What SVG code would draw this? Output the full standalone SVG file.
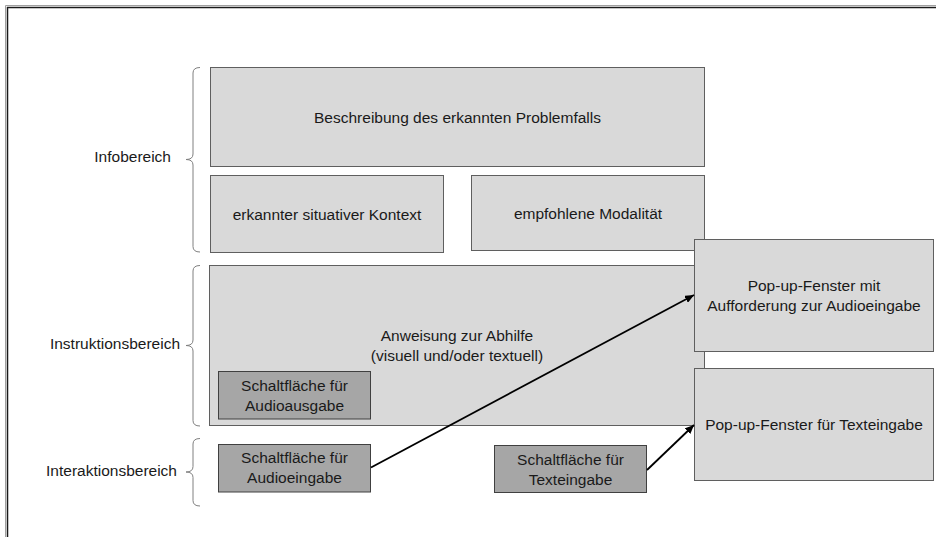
<svg xmlns="http://www.w3.org/2000/svg" width="936" height="537" viewBox="0 0 936 537">
<style>
text{font-family:"Liberation Sans",Arial,sans-serif;font-size:15.5px;fill:#1a1a1a;text-anchor:middle}
.lbl{text-anchor:end}
.box{fill:#d9d9d9;stroke:#5f5f5f;stroke-width:1}
.btn{fill:#a6a6a6;stroke:#404040;stroke-width:1}
.brace{fill:none;stroke:#808080;stroke-width:1}
.conn{fill:none;stroke:#000;stroke-width:1.8}
</style>
<defs>
<marker id="ah" markerUnits="userSpaceOnUse" markerWidth="10" markerHeight="8" refX="9" refY="4" orient="auto">
<path d="M0,0 L9,4 L0,8 Z" fill="#000"/>
</marker>
</defs>
<rect width="936" height="537" fill="#fff"/>
<g id="frame">
<path d="M5.5 537 V5.5 H936" fill="none" stroke="#a0a0a0" stroke-width="1"/>
<path d="M7.5 537 V7.5 H936" fill="none" stroke="#1a1a1a" stroke-width="1.5"/>
</g>
<g id="brace-info">
<path class="brace" d="M200,67.5 Q193,67.5 193,73 V154 Q193,159.5 186,159.5 Q193,159.5 193,165 V246.5 Q193,252 200,252"/>
<text class="lbl" x="171" y="161.5">Infobereich</text>
</g>
<g id="brace-instr">
<path class="brace" d="M200,265.5 Q193,265.5 193,271 V340 Q193,345.5 186,345.5 Q193,345.5 193,351 V420.5 Q193,426 200,426"/>
<text class="lbl" x="180" y="349">Instruktionsbereich</text>
</g>
<g id="brace-inter">
<path class="brace" d="M200,438.5 Q193,438.5 193,444 V466.5 Q193,472 186,472 Q193,472 193,477.5 V500.5 Q193,506 200,506"/>
<text class="lbl" x="177" y="475.5">Interaktionsbereich</text>
</g>
<g id="problem">
<rect class="box" x="210.5" y="67.5" width="494" height="99"/>
<text x="457.5" y="122.5">Beschreibung des erkannten Problemfalls</text>
</g>
<g id="kontext">
<rect class="box" x="210.5" y="175.5" width="233" height="77"/>
<text x="327" y="219.5">erkannter situativer Kontext</text>
</g>
<g id="modalitaet">
<rect class="box" x="471.5" y="175.5" width="233" height="75"/>
<text x="588" y="218.5">empfohlene Modalität</text>
</g>
<g id="anweisung">
<rect class="box" x="209.5" y="265.5" width="495" height="160"/>
<text x="457" y="341">Anweisung zur Abhilfe</text>
<text x="457" y="361">(visuell und/oder textuell)</text>
</g>
<g id="btn-audioausgabe">
<rect class="btn" x="218.5" y="371.5" width="152" height="47.5"/>
<text x="294.5" y="391">Schaltfläche für</text>
<text x="294.5" y="411">Audioausgabe</text>
</g>
<g id="popup-audio">
<rect class="box" x="694.5" y="239.5" width="239" height="112"/>
<text x="814" y="291">Pop-up-Fenster mit</text>
<text x="814" y="311">Aufforderung zur Audioeingabe</text>
</g>
<g id="popup-text">
<rect class="box" x="694.5" y="368.5" width="239" height="112"/>
<text x="814" y="430">Pop-up-Fenster für Texteingabe</text>
</g>
<g id="btn-audioeingabe">
<rect class="btn" x="218.5" y="444.5" width="152" height="47.5"/>
<text x="294.5" y="463">Schaltfläche für</text>
<text x="294.5" y="483">Audioeingabe</text>
</g>
<g id="btn-texteingabe">
<rect class="btn" x="494.5" y="445.5" width="152" height="47"/>
<text x="570.5" y="464.5">Schaltfläche für</text>
<text x="570.5" y="484.5">Texteingabe</text>
</g>
<g id="connectors">
<line class="conn" x1="371" y1="467.5" x2="694" y2="295" marker-end="url(#ah)"/>
<line class="conn" x1="647" y1="470" x2="694" y2="425" marker-end="url(#ah)"/>
</g>
</svg>
